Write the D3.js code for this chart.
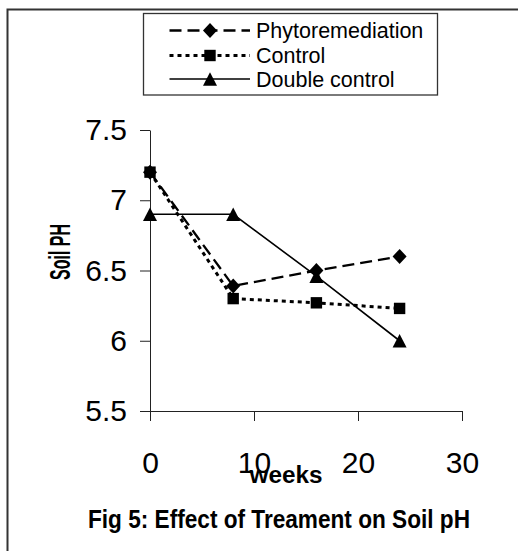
<!DOCTYPE html>
<html><head><meta charset="utf-8">
<script src="https://cdn.jsdelivr.net/npm/d3@7"></script>
<style>
html,body{margin:0;padding:0;background:#fff;}
svg{display:block;font-family:"Liberation Sans",Arial,sans-serif;}
</style></head>
<body>
<svg id="chart" width="518" height="551"></svg>
<script>
// ---- data ----
const weeks = [0, 8, 16, 24];
const phytoremediation = [7.2, 6.39, 6.5, 6.6];
const control = [7.2, 6.3, 6.27, 6.23];
const doubleControl = [6.9, 6.9, 6.46, 6.0];
const seriesNames = ["Phytoremediation", "Control", "Double control"];
const xTicks = [0, 10, 20, 30];
const yTicks = [5.5, 6, 6.5, 7, 7.5];
const xLabel = "weeks";
const yLabel = "Soil PH";
const caption = "Fig 5: Effect of Treament on Soil pH";

const svg = d3.select("#chart");

// outer frame (cut off at right/bottom)
svg.append("rect").attr("x", 7.5).attr("y", 9.5).attr("width", 530).attr("height", 560)
  .attr("fill", "none").attr("stroke", "#333").attr("stroke-width", 2);

const x = d3.scaleLinear().domain([0, 30]).range([150, 462]);
const y = d3.scaleLinear().domain([5.5, 7.5]).range([411, 130]);

// axes
const yAxis = d3.axisLeft(y).tickValues(yTicks).tickFormat(d => String(d))
  .tickSize(10).tickSizeOuter(0).tickPadding(13);
const xAxis = d3.axisBottom(x).tickValues(xTicks).tickFormat(d => String(d))
  .tickSize(10).tickSizeOuter(0).tickPadding(31);

const gy = svg.append("g").attr("transform", "translate(150,0)").call(yAxis);
const gx = svg.append("g").attr("transform", "translate(0,411)").call(xAxis);
[gx, gy].forEach(g => {
  g.selectAll("path,line").attr("stroke", "#222").attr("stroke-width", 1);
  g.selectAll("text").attr("fill", "#000").style("font-size", "30px")
    .style("font-family", "'Liberation Sans',Arial,sans-serif");
});

// symbols
const diamond = { draw(ctx, s) { const w = 7, h = 7.5; ctx.moveTo(0, -h); ctx.lineTo(w, 0); ctx.lineTo(0, h); ctx.lineTo(-w, 0); ctx.closePath(); } };
const square = { draw(ctx, s) { const a = 5.7; ctx.rect(-a, -a, 2 * a, 2 * a); } };
const triangle = { draw(ctx, s) { const w = 7, h = 6.8; ctx.moveTo(0, -h); ctx.lineTo(w, h); ctx.lineTo(-w, h); ctx.closePath(); } };

const series = [
  { name: seriesNames[0], values: phytoremediation, dash: "12 6", width: 2.3, sym: diamond },
  { name: seriesNames[1], values: control, dash: "4 4", width: 3, sym: square },
  { name: seriesNames[2], values: doubleControl, dash: null, width: 1.6, sym: triangle }
];

const line = d3.line().x(d => x(d[0])).y(d => y(d[1]));

series.forEach(s => {
  const pts = weeks.map((w, i) => [w, s.values[i]]);
  svg.append("path").datum(pts).attr("d", line).attr("fill", "none")
    .attr("stroke", "#000").attr("stroke-width", s.width)
    .attr("stroke-dasharray", s.dash);
});
series.slice().reverse().forEach(s => {
  const pts = weeks.map((w, i) => [w, s.values[i]]);
  svg.append("g").selectAll("path").data(pts).join("path")
    .attr("transform", d => `translate(${x(d[0])},${y(d[1])})`)
    .attr("d", d3.symbol().type(s.sym)()).attr("fill", "#000");
});

// legend
const lg = svg.append("g");
lg.append("rect").attr("x", 143.5).attr("y", 13.5).attr("width", 294).attr("height", 81.5)
  .attr("fill", "#fff").attr("stroke", "#333").attr("stroke-width", 1.3);
const rowY = [30.5, 55.5, 79];
series.forEach((s, i) => {
  const yy = rowY[i];
  lg.append("line").attr("x1", 169.5).attr("x2", 250).attr("y1", yy).attr("y2", yy)
    .attr("stroke", "#000").attr("stroke-width", s.width).attr("stroke-dasharray", s.dash);
  lg.append("path").attr("transform", `translate(210,${yy})`)
    .attr("d", d3.symbol().type(s.sym)()).attr("fill", "#000");
  lg.append("text").attr("x", 256).attr("y", yy + 7.5).text(s.name)
    .style("font-size", "21.5px").attr("fill", "#000");
});

// axis titles & caption
svg.append("text").attr("transform", "translate(70,252) rotate(-90)")
  .attr("text-anchor", "middle").style("font-size", "30px").style("font-weight", "bold")
  .attr("textLength", 56).attr("lengthAdjust", "spacingAndGlyphs").text(yLabel);
svg.append("text").attr("x", 286).attr("y", 482.5).attr("text-anchor", "middle")
  .style("font-size", "23px").style("font-weight", "bold")
  .attr("textLength", 73).attr("lengthAdjust", "spacingAndGlyphs").text(xLabel);
svg.append("text").attr("x", 279).attr("y", 528).attr("text-anchor", "middle")
  .style("font-size", "26px").style("font-weight", "bold")
  .attr("textLength", 382).attr("lengthAdjust", "spacingAndGlyphs").text(caption);
</script>
</body></html>
